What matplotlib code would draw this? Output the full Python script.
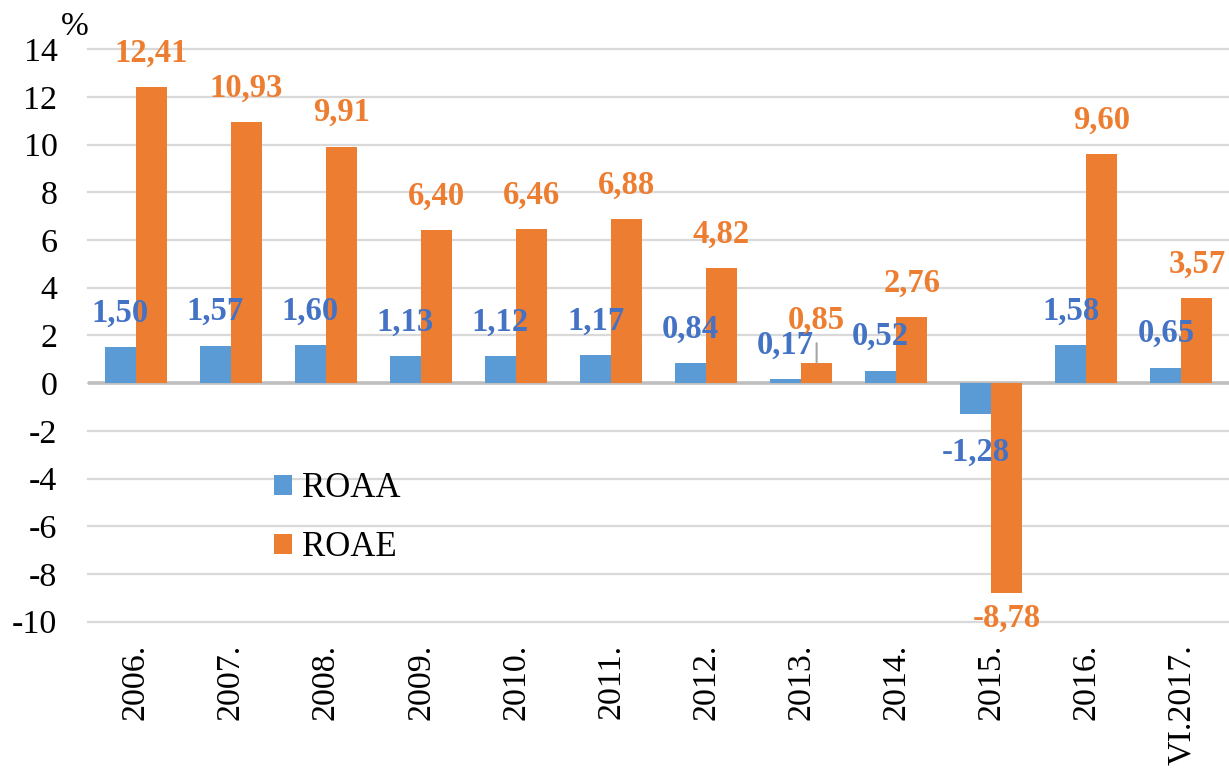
import matplotlib.pyplot as plt
import numpy as np

years = ['2006.', '2007.', '2008.', '2009.', '2010.', '2011.', '2012.',
         '2013.', '2014.', '2015.', '2016.', 'VI.2017.']
roaa = [1.50, 1.57, 1.60, 1.13, 1.12, 1.17, 0.84, 0.17, 0.52, -1.28, 1.58, 0.65]
roae = [12.41, 10.93, 9.91, 6.40, 6.46, 6.88, 4.82, 0.85, 2.76, -8.78, 9.60, 3.57]
yticks = list(range(-10, 15, 2))

plt.rcParams['font.family'] = ['Liberation Serif', 'DejaVu Serif']

c_blue = '#5B9BD5'
c_orange = '#ED7D31'
c_blue_txt = '#4472C4'

fig = plt.figure(figsize=(12.29, 7.68), dpi=100)
ax = fig.add_axes([0.0716, 0.1905, 1 - 0.0716, 0.7456])

x = np.arange(len(years))
w = 0.326
ax.bar(x - w / 2, roaa, w, color=c_blue, label='ROAA', zorder=3)
ax.bar(x + w / 2, roae, w, color=c_orange, label='ROAE', zorder=3)

ax.set_xlim(-0.5, len(years) - 0.5)
ax.set_ylim(-10, 14)
ax.set_yticks(yticks)
ax.set_yticklabels([str(t) for t in yticks], fontsize=24.5)
ax.set_xticks(x)
ax.set_xticklabels(years, rotation=90, fontsize=24.5, va='top')
ax.tick_params(axis='both', length=0)
ax.tick_params(axis='y', pad=22)
ax.tick_params(axis='x', pad=16)
for s in ax.spines.values():
    s.set_visible(False)
ax.yaxis.grid(True, color='#D9D9D9', lw=1.6, zorder=0)
for gl in ax.get_ygridlines():
    gl.set_clip_on(False)
ax.set_axisbelow(True)
ax.axhline(0, color='#BFBFBF', lw=2.6, zorder=2)


def fmt(v):
    return f'{v:.2f}'.replace('.', ',')


# value labels: centre offset from the bar end, in points
for i, v in enumerate(roaa):
    dy = 24.5 if v >= 0 else -27.5
    ax.annotate(fmt(v), (x[i] - w / 2, v), xytext=(0, dy), textcoords='offset points',
                ha='center', va='center', fontsize=23.5, fontweight='bold',
                color=c_blue_txt, zorder=5)

for i, v in enumerate(roae):
    dy = 24.5 if v >= 0 else -18.7
    if i == 7:
        # 2013 label is lifted, with a leader line
        dy = 31
        ax.annotate('', (x[i] + w / 2, v), xytext=(x[i] + w / 2, v + 0.82),
                    arrowprops=dict(arrowstyle='-', color='#A6A6A6', lw=1.5,
                                    shrinkA=0, shrinkB=0), zorder=4)
    ax.annotate(fmt(v), (x[i] + w / 2, v), xytext=(0, dy), textcoords='offset points',
                ha='center', va='center', fontsize=23.5, fontweight='bold',
                color=c_orange, zorder=5)

fig.text(0.061, 0.965, '%', fontsize=24, ha='center', va='center')

ax.legend(loc='center left', bbox_to_anchor=(0.223, 0.325), bbox_transform=fig.transFigure,
          frameon=False, fontsize=25, handlelength=0.52, handleheight=0.52,
          handletextpad=0.28, labelspacing=0.75, borderpad=0, borderaxespad=0)

fig.savefig('out.png', dpi=100)
